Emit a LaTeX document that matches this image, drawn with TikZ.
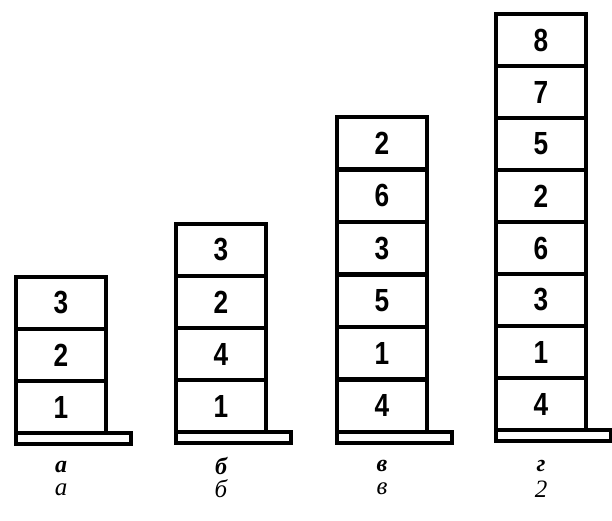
\documentclass[tikz,border=0pt]{standalone}
\usepackage{fontspec}
\setmainfont{Liberation Serif}
\newfontfamily\digitfont[FakeStretch=0.82]{Liberation Sans}
\begin{document}
\begin{tikzpicture}[x=1pt, y=-1pt,
    cell/.style={draw, line width=3.8pt, minimum width=90pt, minimum height=52pt,
      inner sep=0pt, outer sep=0pt, font=\digitfont\bfseries\fontsize{32}{32}\selectfont},
    plate/.style={draw, line width=3.8pt},
    letter/.style={font=\bfseries\itshape\fontsize{24}{24}\selectfont},
    caption/.style={font=\itshape\fontsize{25}{25}\selectfont},
]
\useasboundingbox (0,0) rectangle (612,521);

% --- а: three boxes ---
\begin{scope}[shift={(61,433)}]
\foreach \n [count=\i] in {1,2,3}
  \node[cell] (a\i) at (0,{-(\i-0.5)*52}) {\n};
\draw[plate] (a1.south west) rectangle ++(115,11);
\node[letter] (la) at (0,34) {а};
\node[caption] (ca) at (0,57) {а};
\end{scope}

% --- б: four boxes ---
\begin{scope}[shift={(221,432)}]
\foreach \n [count=\i] in {1,4,2,3}
  \node[cell] (b\i) at (0,{-(\i-0.5)*52}) {\n};
\draw[plate] (b1.south west) rectangle ++(115,11);
\node[letter] (lb) at (0,34) {б};
\node[caption] (cb) at (0,57) {б};
\end{scope}

% --- в: six boxes ---
\begin{scope}[shift={(382,432)}]
\foreach \n [count=\i] in {4,1,5,3,6,2}
  \node[cell] (v\i) at (0,{-(\i-0.5)*52.5}) {\n};
\draw[plate] (v1.south west) rectangle ++(115,11);
\node[letter] (lv) at (0,34) {в};
\node[caption] (cv) at (0,57) {в};
\end{scope}

% --- г: eight boxes ---
\begin{scope}[shift={(541,430)}]
\foreach \n [count=\i] in {4,1,3,6,2,5,7,8}
  \node[cell] (g\i) at (0,{-(\i-0.5)*52}) {\n};
\draw[plate] (g1.south west) rectangle ++(115,11);
\node[letter] (lg) at (0,36) {г};
\node[caption] (cg) at (0,59) {2};
\end{scope}

\end{tikzpicture}
\end{document}
